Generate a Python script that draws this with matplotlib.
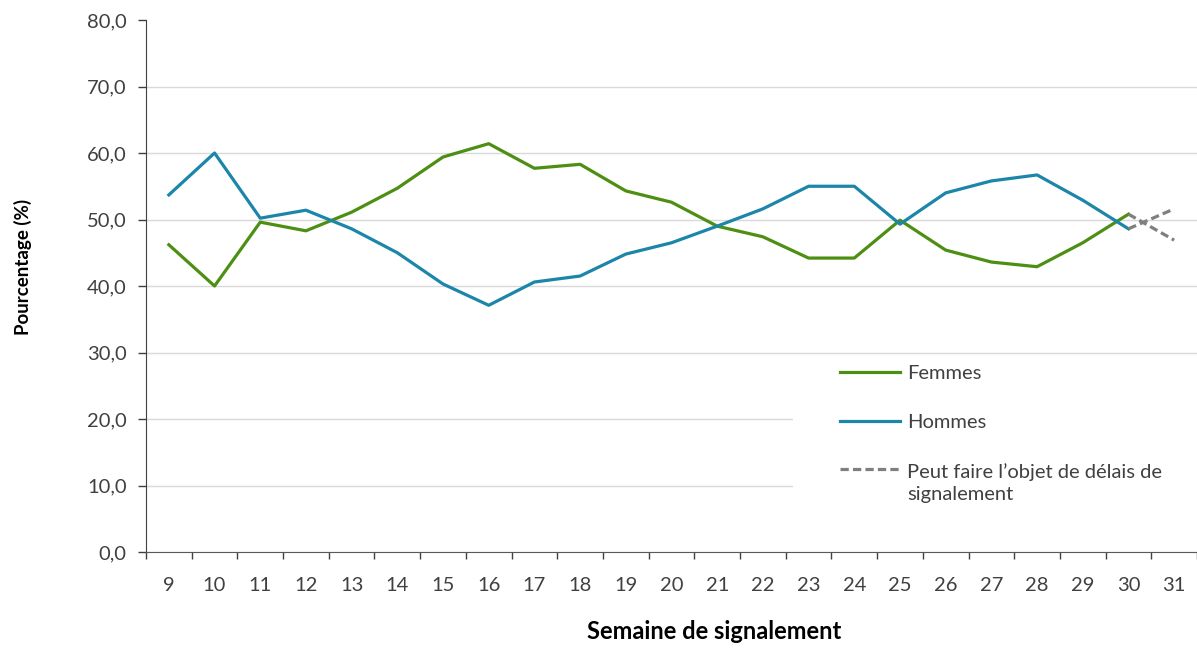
import matplotlib
matplotlib.use("Agg")
import matplotlib.pyplot as plt
from matplotlib.patches import Rectangle
from matplotlib.ticker import FixedLocator, FuncFormatter
import numpy as np

plt.rcParams['font.family'] = ['Lato', 'DejaVu Sans']

# Données
semaines = [9, 10, 11, 12, 13, 14, 15, 16, 17, 18, 19, 20, 21, 22, 23, 24, 25, 26, 27, 28, 29, 30, 31]
femmes = [46.2, 40.0, 49.6, 48.3, 51.1, 54.7, 59.4, 61.4, 57.7, 58.3, 54.3, 52.6, 49.0,
          47.4, 44.2, 44.2, 49.9, 45.4, 43.6, 42.9, 46.5, 50.8, 46.9]
hommes = [53.7, 60.0, 50.2, 51.4, 48.6, 45.0, 40.3, 37.1, 40.6, 41.5, 44.8, 46.5, 49.0,
          51.6, 55.0, 55.0, 49.3, 54.0, 55.8, 56.7, 52.9, 48.6, 51.6]
n_delai = 2  # dernières semaines sujettes aux délais

vert = '#4C8F12'
bleu = '#1B86AA'
gris = '#7F7F7F'

fig = plt.figure(figsize=(11.97, 6.48), dpi=100)
ax = fig.add_axes([146/1197, 1-552/648, 1-146/1197, (552-20)/648])

x = np.arange(len(semaines))
k = len(semaines) - n_delai + 1
tirets = (0, (2.6, 1.3))
ax.plot(x[:k], femmes[:k], color=vert, lw=2.3, label='Femmes', zorder=3)
ax.plot(x[:k], hommes[:k], color=bleu, lw=2.3, label='Hommes', zorder=3)
ax.plot(x[k-1:], femmes[k-1:], color=gris, lw=2.3, ls=tirets, zorder=3,
        label='Peut faire l\u2019objet de délais de\nsignalement')
ax.plot(x[k-1:], hommes[k-1:], color=gris, lw=2.3, ls=tirets, zorder=3)

ax.set_xlim(-0.5, len(semaines) - 0.5)
ax.set_ylim(0, 80)
ax.set_yticks(np.arange(0, 81, 10))
ax.yaxis.set_major_formatter(FuncFormatter(lambda v, p: f'{v:.1f}'.replace('.', ',')))
ax.set_xticks(x)
ax.set_xticklabels([str(s) for s in semaines])
ax.xaxis.set_minor_locator(FixedLocator(np.arange(-0.5, len(semaines), 1.0)))
ax.tick_params(axis='x', which='major', length=0, pad=18, labelsize=14.5, colors='#404040')
ax.tick_params(axis='x', which='minor', length=5, width=1, color='#404040')
ax.tick_params(axis='y', length=6, width=1, color='#404040', labelsize=14.5,
               labelcolor='#404040', pad=8)

ax.grid(axis='y', color='#D9D9D9', lw=1)
ax.get_ygridlines()[-1].set_visible(False)
ax.set_axisbelow(True)

for s in ['top', 'right']:
    ax.spines[s].set_visible(False)
ax.spines['left'].set_color('#404040')
ax.spines['bottom'].set_color('#595959')

ax.set_xlabel('Semaine de signalement', fontsize=17, fontweight='bold')
ax.xaxis.set_label_coords(0.541, -0.150)
ax.xaxis.label.set_va('center')
ax.set_ylabel('Pourcentage (%)', fontsize=13.5, fontweight='bold')
ax.yaxis.set_label_coords(-0.117, 0.535)
ax.yaxis.label.set_va('center')

# fond blanc sous la légende
ax.add_patch(Rectangle((0.616, 0.08), 0.4, 0.29, transform=ax.transAxes,
                       facecolor='white', edgecolor='none', zorder=1.5))
leg = ax.legend(loc='upper left', bbox_to_anchor=(0.660, 0.352), frameon=False,
                fontsize=14.5, handlelength=3.0, handletextpad=0.35, labelspacing=1.6,
                borderaxespad=0, borderpad=0)
for t in leg.get_texts():
    t.set_color('#404040')
    t.set_linespacing(1.35)
# aligner le tiret gris sur la première ligne du texte
h = leg.get_lines()[-1]
h.set_ydata(np.asarray(h.get_ydata()) + 10.5)

fig.savefig('out.png', dpi=100)
